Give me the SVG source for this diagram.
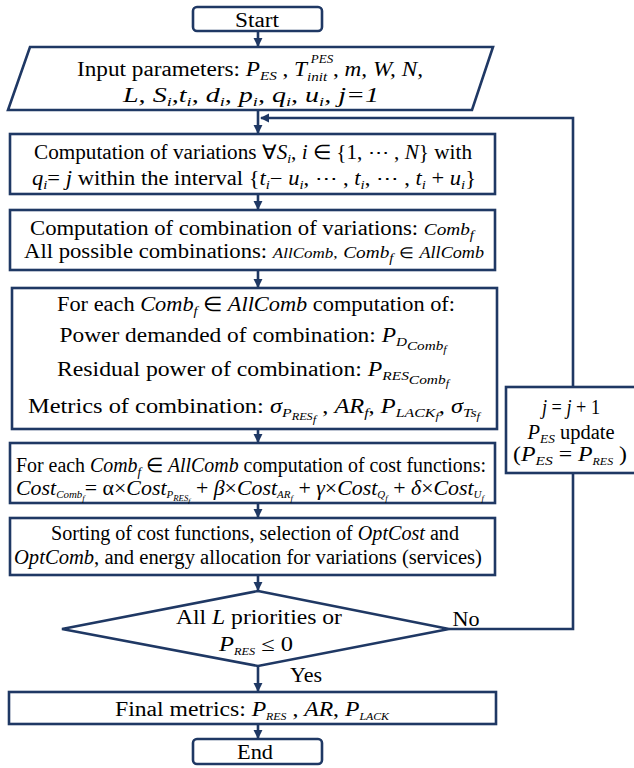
<svg xmlns="http://www.w3.org/2000/svg" width="634" height="768" viewBox="0 0 634 768">
  <style>
    .box { fill: #ffffff; stroke: #1f3864; stroke-width: 2.6; }
    .ln { fill: none; stroke: #1f3864; stroke-width: 2.6; }
    text { font-family: "Liberation Serif", "Times New Roman", serif; font-size: 20px; fill: #000; text-anchor: middle; }
    .m { font-style: italic; }
    .s { font-size: 13px; }
    .ss { font-size: 10px; }
  </style>
  <defs>
    <marker id="ah" viewBox="0 0 10 10" refX="9" refY="5" markerWidth="3.6" markerHeight="3.6" orient="auto" markerUnits="strokeWidth">
      <path d="M0,0 L10,5 L0,10 z" fill="#1f3864"/>
    </marker>
  </defs>

  <!-- flow connectors -->
  <g id="connectors">
    <line class="ln" x1="258" y1="31" x2="258" y2="46" marker-end="url(#ah)"/>
    <line class="ln" x1="258" y1="110" x2="258" y2="133" marker-end="url(#ah)"/>
    <line class="ln" x1="258" y1="194" x2="258" y2="209" marker-end="url(#ah)"/>
    <line class="ln" x1="258" y1="270" x2="258" y2="287" marker-end="url(#ah)"/>
    <line class="ln" x1="258" y1="429" x2="258" y2="442" marker-end="url(#ah)"/>
    <line class="ln" x1="258" y1="503" x2="258" y2="517" marker-end="url(#ah)"/>
    <line class="ln" x1="258" y1="575" x2="258" y2="590" marker-end="url(#ah)"/>
    <line class="ln" x1="258" y1="666" x2="258" y2="691" marker-end="url(#ah)"/>
    <line class="ln" x1="258" y1="724" x2="258" y2="738" marker-end="url(#ah)"/>
    <!-- "No" branch loops back above the variations step -->
    <polyline class="ln" points="449,629 573,629 573,118 261,118" marker-end="url(#ah)"/>
    <text x="466" y="626" font-size="19" textLength="27" lengthAdjust="spacingAndGlyphs">No</text>
    <text x="306" y="682" font-size="19" textLength="32" lengthAdjust="spacingAndGlyphs">Yes</text>
  </g>

  <g id="start">
    <rect class="box" x="193" y="7" width="129" height="24" rx="4"/>
    <text x="257" y="27" textLength="44" lengthAdjust="spacingAndGlyphs">Start</text>
  </g>

  <g id="input">
    <polygon class="box" points="30,47 493,47 472,110 8,110"/>
    <text x="250" y="76" textLength="346" lengthAdjust="spacingAndGlyphs">Input parameters: <tspan class="m">P</tspan><tspan class="m s" baseline-shift="-4">ES</tspan> , <tspan class="m">T</tspan><tspan class="m s" baseline-shift="-5">init</tspan> , <tspan class="m">m,  W, N,</tspan></text>
    <text x="322" y="63" class="m s">PES</text>
    <text x="251" y="102" textLength="256" lengthAdjust="spacingAndGlyphs"><tspan class="m">L, S</tspan><tspan class="m s" baseline-shift="-4">i</tspan><tspan class="m">,t</tspan><tspan class="m s" baseline-shift="-4">i</tspan><tspan class="m">,  d</tspan><tspan class="m s" baseline-shift="-4">i</tspan><tspan class="m">,  p</tspan><tspan class="m s" baseline-shift="-4">i</tspan><tspan class="m">,  q</tspan><tspan class="m s" baseline-shift="-4">i</tspan><tspan class="m">, u</tspan><tspan class="m s" baseline-shift="-4">i</tspan><tspan class="m">, j=1</tspan></text>
  </g>

  <g id="variations">
    <rect class="box" x="10" y="134" width="485" height="60"/>
    <text x="253" y="159" textLength="438" lengthAdjust="spacingAndGlyphs">Computation  of variations ∀<tspan class="m">S</tspan><tspan class="m s" baseline-shift="-4">i</tspan>, <tspan class="m">i</tspan> ∈ {1, ⋯ , <tspan class="m">N</tspan>} with</text>
    <text x="254" y="185" textLength="444" lengthAdjust="spacingAndGlyphs"><tspan class="m">q</tspan><tspan class="m s" baseline-shift="-4">i</tspan>= <tspan class="m">j</tspan> within the interval {<tspan class="m">t</tspan><tspan class="m s" baseline-shift="-4">i</tspan>− <tspan class="m">u</tspan><tspan class="m s" baseline-shift="-4">i</tspan>, ⋯ , <tspan class="m">t</tspan><tspan class="m s" baseline-shift="-4">i</tspan>, ⋯ , <tspan class="m">t</tspan><tspan class="m s" baseline-shift="-4">i</tspan> + <tspan class="m">u</tspan><tspan class="m s" baseline-shift="-4">i</tspan>}</text>
  </g>

  <g id="combinations">
    <rect class="box" x="10" y="210" width="485" height="60"/>
    <text x="252" y="235" textLength="444" lengthAdjust="spacingAndGlyphs">Computation  of combination  of variations: <tspan class="m" font-size="17">Comb</tspan><tspan class="m s" baseline-shift="-4">f</tspan></text>
    <text x="254" y="258" textLength="460" lengthAdjust="spacingAndGlyphs">All possible combinations:  <tspan class="m" font-size="15">AllComb</tspan><tspan font-size="15">,</tspan> <tspan class="m" font-size="17">Comb</tspan><tspan class="m s" baseline-shift="-4">f</tspan> <tspan font-size="15">∈</tspan> <tspan class="m" font-size="16">AllComb</tspan></text>
  </g>

  <g id="metrics">
    <rect class="box" x="12" y="288" width="485" height="141"/>
    <text x="256" y="311" textLength="398" lengthAdjust="spacingAndGlyphs">For each <tspan class="m">Comb</tspan><tspan class="m s" baseline-shift="-4">f</tspan>  ∈ <tspan class="m">AllComb</tspan> computation  of:</text>
    <text x="253" y="342" textLength="387" lengthAdjust="spacingAndGlyphs">Power demanded of combination: <tspan class="m">P</tspan><tspan class="m s" baseline-shift="-4">D</tspan><tspan class="m s" baseline-shift="-8">Comb</tspan><tspan class="m ss" baseline-shift="-11">f</tspan></text>
    <text x="253" y="376" textLength="392" lengthAdjust="spacingAndGlyphs">Residual power of combination: <tspan class="m">P</tspan><tspan class="m s" baseline-shift="-4">RES</tspan><tspan class="m s" baseline-shift="-8">Comb</tspan><tspan class="m ss" baseline-shift="-11">f</tspan></text>
    <text x="254" y="413" textLength="452" lengthAdjust="spacingAndGlyphs">Metrics of combination: <tspan class="m">σ</tspan><tspan class="m s" baseline-shift="-4">P</tspan><tspan class="m ss" baseline-shift="-7">RES</tspan><tspan class="m ss" baseline-shift="-10">f</tspan> , <tspan class="m">AR</tspan><tspan class="m s" baseline-shift="-4">f</tspan>, <tspan class="m">P</tspan><tspan class="m s" baseline-shift="-4">LACK</tspan><tspan class="m ss" baseline-shift="-7">f</tspan>, <tspan class="m">σ</tspan><tspan class="m s" baseline-shift="-4">Ts</tspan><tspan class="m ss" baseline-shift="-7">f</tspan></text>
  </g>

  <g id="costs">
    <rect class="box" x="10" y="443" width="485" height="60"/>
    <text x="251" y="472" font-size="18" textLength="470" lengthAdjust="spacingAndGlyphs">For each <tspan class="m">Comb</tspan><tspan class="m s" baseline-shift="-4">f</tspan> ∈ <tspan class="m">AllComb</tspan> computation of cost functions:</text>
    <text x="250" y="495" font-size="14" textLength="468" lengthAdjust="spacingAndGlyphs"><tspan class="m">Cost</tspan><tspan class="m ss" baseline-shift="-3">Comb</tspan><tspan class="m" font-size="8" baseline-shift="-6">f</tspan>= α×<tspan class="m">Cost</tspan><tspan class="m ss" baseline-shift="-3">P</tspan><tspan class="m" font-size="8" baseline-shift="-6">RES</tspan><tspan class="m" font-size="7" baseline-shift="-8">f</tspan> + <tspan class="m">β</tspan>×<tspan class="m">Cost</tspan><tspan class="m ss" baseline-shift="-3">AR</tspan><tspan class="m" font-size="8" baseline-shift="-6">f</tspan> + <tspan class="m">γ</tspan>×<tspan class="m">Cost</tspan><tspan class="m ss" baseline-shift="-3">Q</tspan><tspan class="m" font-size="8" baseline-shift="-6">f</tspan> + <tspan class="m">δ</tspan>×<tspan class="m">Cost</tspan><tspan class="m ss" baseline-shift="-3">U</tspan><tspan class="m" font-size="8" baseline-shift="-6">f</tspan></text>
  </g>

  <g id="sorting">
    <rect class="box" x="10" y="518" width="485" height="57"/>
    <text x="255" y="540" textLength="408" lengthAdjust="spacingAndGlyphs">Sorting of cost functions, selection of <tspan class="m">OptCost</tspan> and</text>
    <text x="248" y="564" textLength="468" lengthAdjust="spacingAndGlyphs"><tspan class="m">OptComb</tspan>, and energy allocation for variations (services)</text>
  </g>

  <g id="decision">
    <polygon class="box" points="258,591 449,629 258,666 62,629"/>
    <text x="259" y="624" textLength="166" lengthAdjust="spacingAndGlyphs">All <tspan class="m">L</tspan> priorities or</text>
    <text x="256" y="651" textLength="74" lengthAdjust="spacingAndGlyphs"><tspan class="m">P</tspan><tspan class="m ss" baseline-shift="-4">RES</tspan> ≤ 0</text>
  </g>

  <g id="update">
    <rect class="box" x="506" y="387" width="140" height="86"/>
    <text x="571" y="414" font-size="19" textLength="58" lengthAdjust="spacingAndGlyphs"><tspan class="m">j</tspan> = <tspan class="m">j</tspan> + 1</text>
    <text x="571" y="439" font-size="19" textLength="87" lengthAdjust="spacingAndGlyphs"><tspan class="m">P</tspan><tspan class="m s" baseline-shift="-4">ES</tspan> update</text>
    <text x="570" y="461" font-size="19" textLength="114" lengthAdjust="spacingAndGlyphs">(<tspan class="m">P</tspan><tspan class="m s" baseline-shift="-4">ES</tspan> = <tspan class="m">P</tspan><tspan class="m ss" baseline-shift="-4">RES</tspan> )</text>
  </g>

  <g id="final">
    <rect class="box" x="9" y="692" width="487" height="32"/>
    <text x="252" y="716" textLength="274" lengthAdjust="spacingAndGlyphs">Final metrics: <tspan class="m">P</tspan><tspan class="m ss" baseline-shift="-4">RES</tspan> , <tspan class="m">AR</tspan>, <tspan class="m">P</tspan><tspan class="m ss" baseline-shift="-4">LACK</tspan></text>
  </g>

  <g id="end">
    <rect class="box" x="193" y="739" width="129" height="25" rx="4"/>
    <text x="255" y="759" textLength="36" lengthAdjust="spacingAndGlyphs">End</text>
  </g>
</svg>
